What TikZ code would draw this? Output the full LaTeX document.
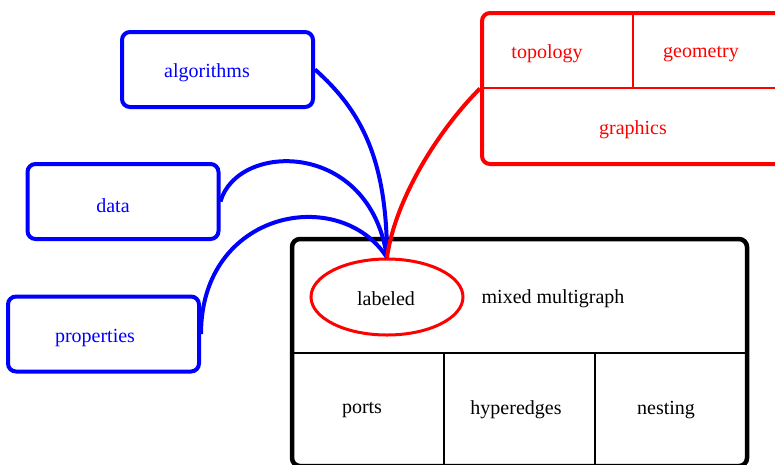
\documentclass[tikz,border=0pt]{standalone}
\usepackage{fontspec}
\setmainfont{Liberation Serif}
\usetikzlibrary{shapes.geometric}
\begin{document}
\begin{tikzpicture}[x=1pt,y=-1pt,
  every node/.style={font=\fontsize{20}{24}\selectfont},
  bluebox/.style={draw=blue,line width=4pt,rounded corners=8pt,minimum width=191pt,minimum height=75pt,inner sep=0pt},
  txt/.style={inner sep=1pt,yshift=-2pt},
  bluetext/.style={txt,text=blue},
  redtext/.style={txt,text=red},
  blacktext/.style={txt,text=black},
  blueline/.style={draw=blue,line width=4pt},
  redline/.style={draw=red,line width=4pt},
  divider/.style={line width=2pt}]
\useasboundingbox (0,0) rectangle (775,464);
% blue boxes
\node[bluebox] (alg) at (217.5,69.5) {};
\node[bluetext] (algt) at (207,71) {algorithms};
\node[bluebox] (dat) at (123,201.5) {};
\node[bluetext] (datt) at (113,204) {data};
\node[bluebox] (prop) at (103.5,334) {};
\node[bluetext] (propt) at (95,336) {properties};
% red box
\node[draw=red,line width=4pt,rounded corners=8pt,minimum width=303pt,minimum height=151pt,inner sep=0pt] (rbox) at (633.5,88.5) {};
\coordinate (rtop) at (633,13);
\coordinate (rmid) at (633,88);
\coordinate (rleft) at (482,88);
\coordinate (rright) at (785,88);
\draw[red,divider] (rleft) -- (rright);
\draw[red,divider] (rtop) -- (rmid);
\node[redtext] (topo) at (547,52) {topology};
\node[redtext] (geom) at (701,52) {geometry};
\node[redtext] (grap) at (633,128) {graphics};
% main box
\node[draw=black,line width=4.5pt,rounded corners=8pt,minimum width=455pt,minimum height=227pt,inner sep=0pt] (main) at (519.5,352.5) {};
\coordinate (ml) at (292,353);
\coordinate (mr) at (747,353);
\coordinate (d1t) at (444,353);
\coordinate (d1b) at (444,466);
\coordinate (d2t) at (595,353);
\coordinate (d2b) at (595,466);
\draw[divider] (ml) -- (mr);
\draw[divider] (d1t) -- (d1b);
\draw[divider] (d2t) -- (d2b);
\node[draw=red,line width=3pt,ellipse,minimum width=152pt,minimum height=76pt,inner sep=0pt] (lab) at (387,297) {};
\node[blacktext] (labt) at (386,297) {labeled};
\node[blacktext] (mm) at (553,297) {mixed multigraph};
\node[blacktext] (ports) at (362,408) {ports};
\node[blacktext] (hyp) at (516,408) {hyperedges};
\node[blacktext] (nest) at (666,408) {nesting};
% connectors
\draw[blueline] (alg.east) .. controls +(45,40) and +(0,-100) .. (lab.north);
\draw[blueline] (dat.east) .. controls +(17,-60) and +(-17,-118) .. (lab.north);
\draw[blueline] (prop.east) .. controls +(0,-124) and +(-47,-73) .. (lab.north);
\draw[redline] (rbox.west) .. controls +(-42,42) and +(8,-58) .. (lab.north);
\end{tikzpicture}
\end{document}
